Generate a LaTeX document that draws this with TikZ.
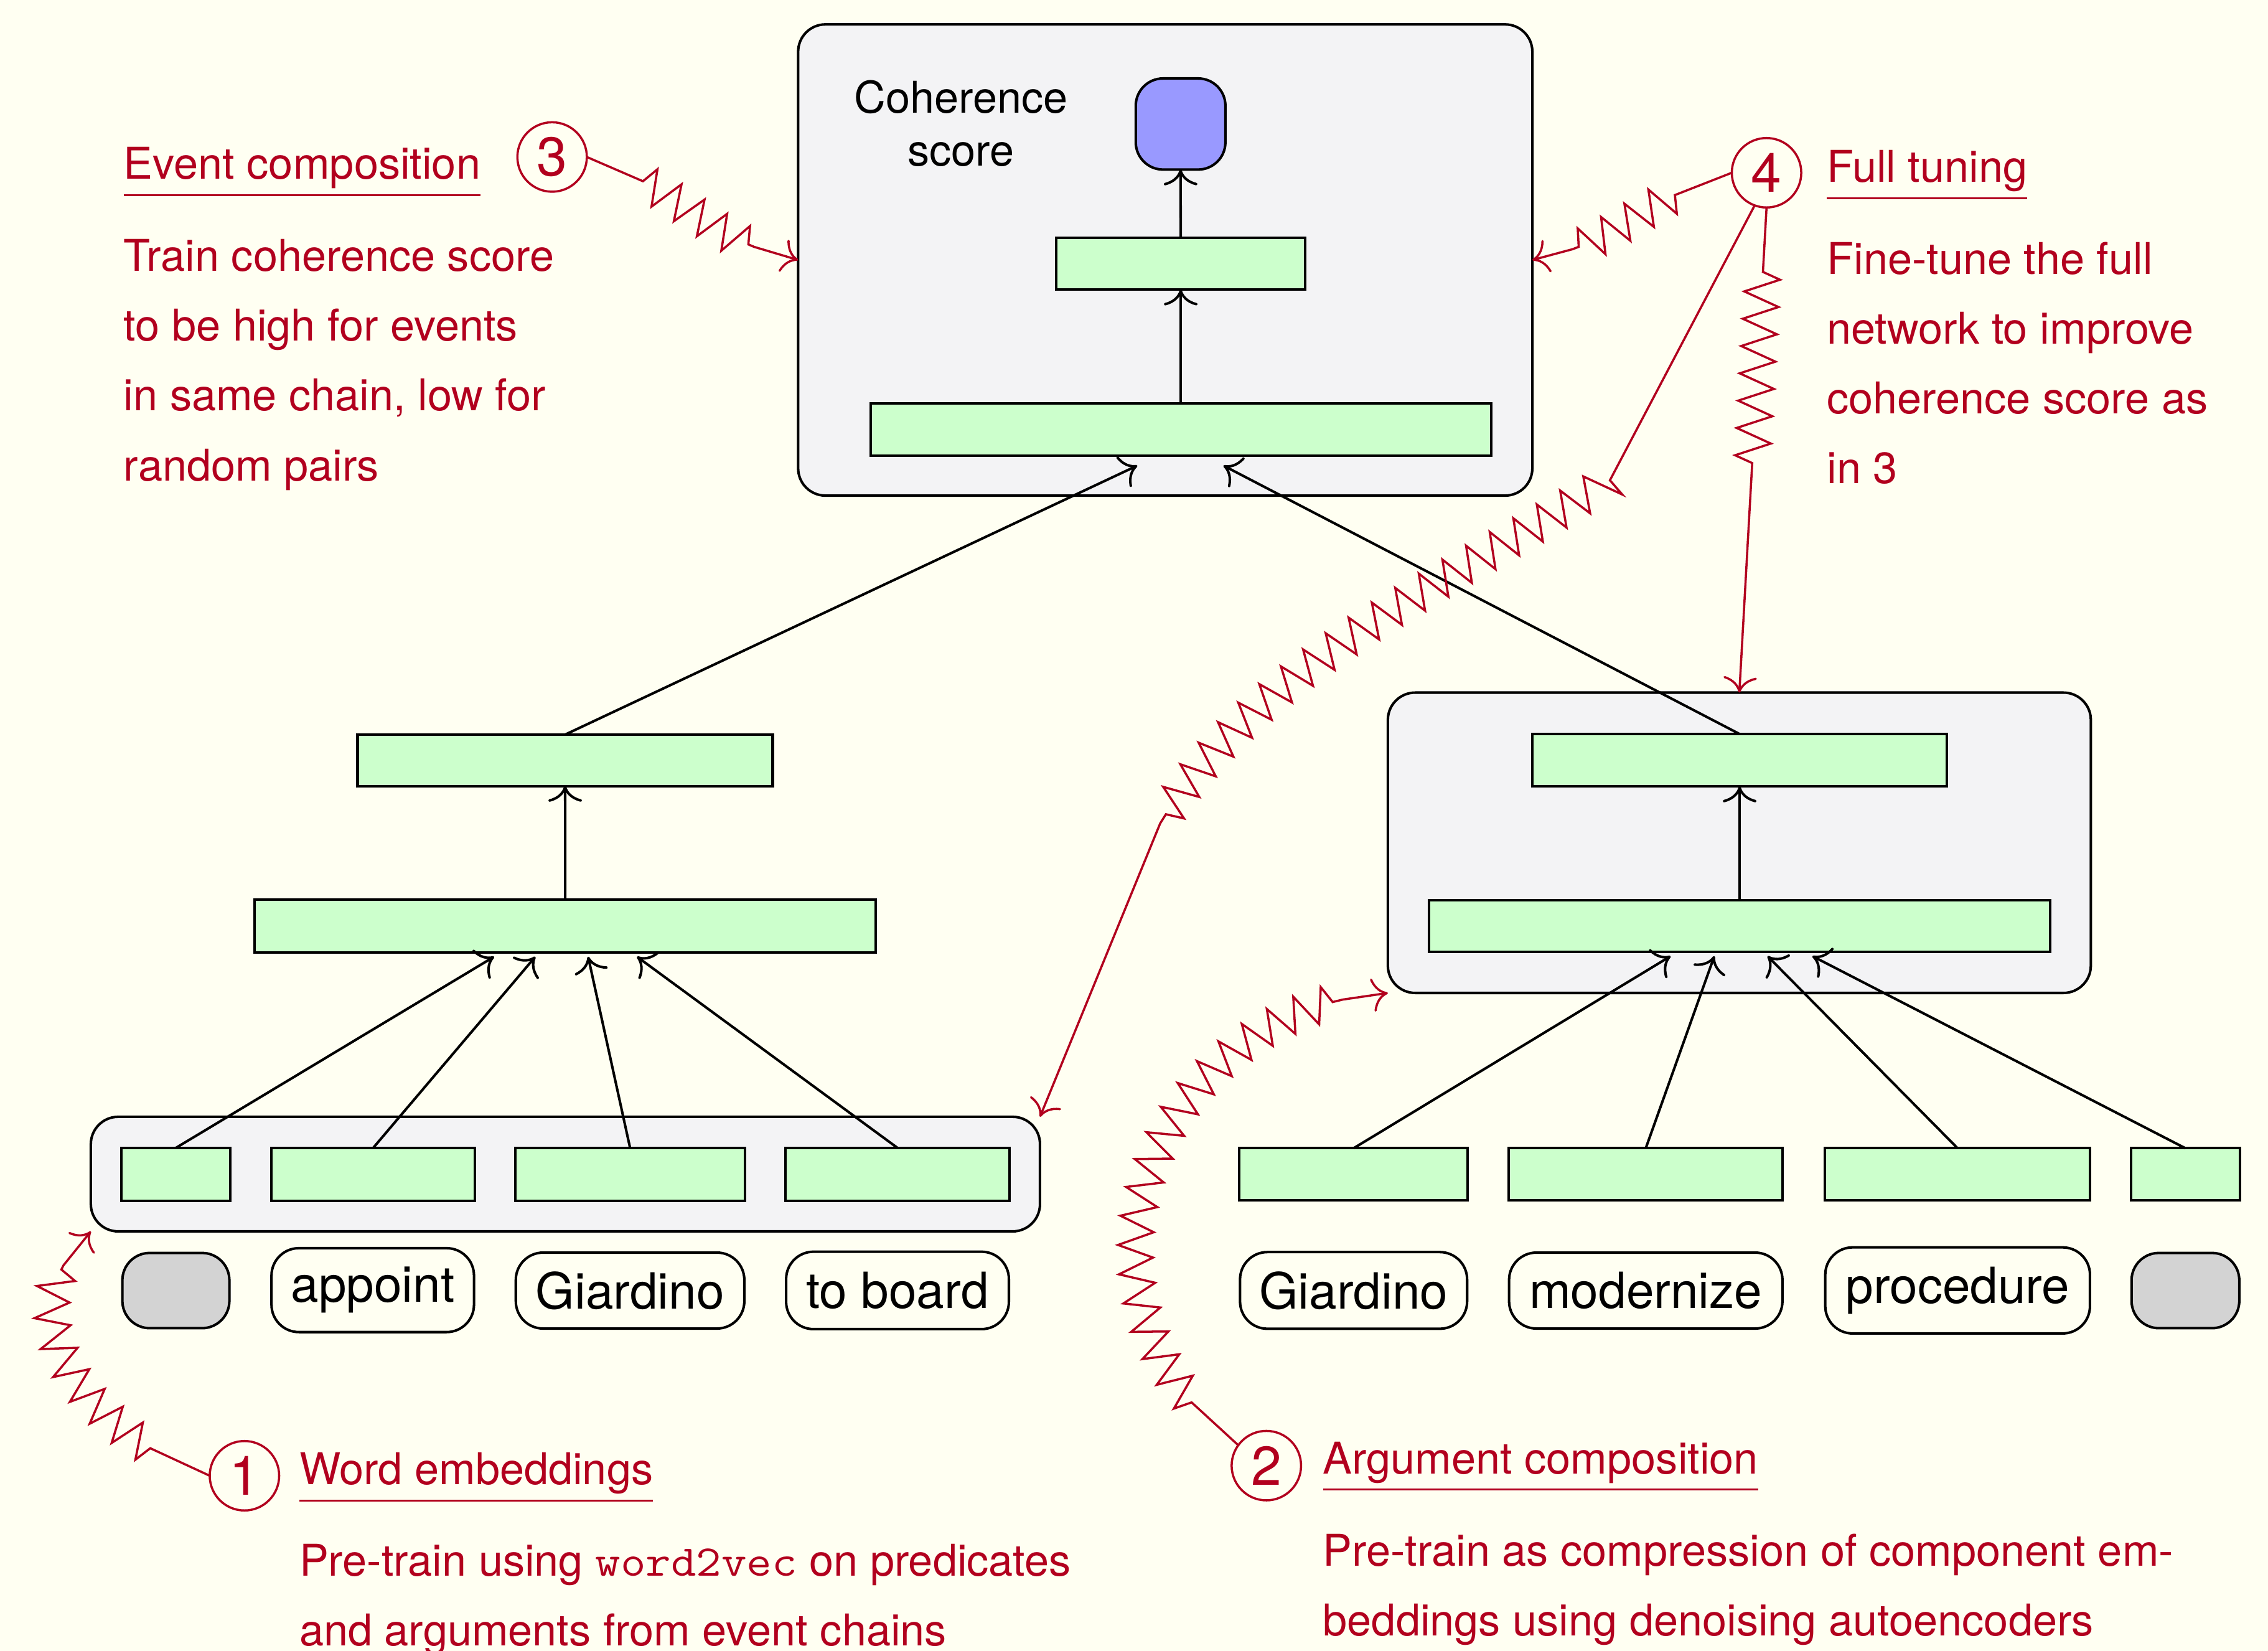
\documentclass[tikz,border=0pt]{standalone}
\usepackage{fontspec}
\setmainfont{TeX Gyre Heros}
\usetikzlibrary{arrows.meta,decorations.pathmorphing,calc}
\definecolor{bgc}{RGB}{255,255,242}
\definecolor{boxgreen}{RGB}{204,255,204}
\definecolor{scoreblue}{RGB}{153,153,255}
\definecolor{tokgray}{RGB}{211,211,211}
\definecolor{contgray}{RGB}{243,243,245}
\definecolor{annred}{RGB}{178,0,30}
\def\U{0.66124pt}
\newcommand\annfont{\fontsize{20pt}{24pt}\selectfont}
\newcommand\tokfont{\fontsize{22.8pt}{26pt}\selectfont}
\newcommand\digfont{\fontsize{25pt}{25pt}\selectfont}
\newcommand\wvec{\scalebox{1.12}[1]{\fontsize{20pt}{24pt}\ttfamily word2vec}}
\begin{document}
\begin{tikzpicture}[x=0.66124pt, y=-0.66124pt,
  >={Computer Modern Rightarrow[length=7.2pt,width=15.3pt]},
  gbox/.style={draw, fill=boxgreen, line width=1.15pt, inner sep=0pt, outer sep=0pt},
  cont/.style={draw, fill=contgray, rounded corners=12.5pt, line width=1.15pt, inner sep=0pt, outer sep=0pt},
  tok/.style={draw, rounded corners=12.5pt, line width=1.15pt, inner sep=0pt, outer sep=0pt, font=\tokfont},
  conn/.style={->, line width=1.15pt},
  ann/.style={text=annred, font=\annfont, inner sep=0pt, outer sep=0pt, anchor=base west},
  uline/.style={draw=annred, line width=0.85pt},
  num/.style={circle, draw=annred, text=annred, line width=1pt, minimum size=48*\U, inner sep=0pt, outer sep=0pt, font=\digfont},
  rl/.style={draw=annred, line width=1pt, ->, decorate},
  zz/.style={decoration={zigzag, amplitude=8pt, segment length=12.5pt, #1}},
]
\useasboundingbox (0,0) rectangle (1568,1141);
\fill[bgc] (0,0) rectangle (1568,1141);

% containers
\node[cont, minimum width=507.6*\U, minimum height=325.7*\U] (tc) at (805.6,179.7) {};
\node[cont, minimum width=486*\U, minimum height=207.6*\U] (rc) at (1202.5,582.5) {};
\node[cont, minimum width=656.2*\U, minimum height=79.2*\U] (lc) at (390.9,811.5) {};

% top network
\node[draw, fill=scoreblue, rounded corners=12.5pt, line width=1.15pt, inner sep=0pt, outer sep=0pt,
      minimum width=62*\U, minimum height=63*\U] (score) at (816.2,85.7) {};
\node[gbox, minimum width=172.2*\U, minimum height=36*\U] (ht2) at (816.3,182.2) {};
\node[gbox, minimum width=429*\U, minimum height=36*\U] (ht1) at (816.3,296.8) {};
\node[font=\annfont, inner sep=0pt, anchor=base] (cs1) at (664.4,78.2) {Coherence};
\node[font=\annfont, inner sep=0pt, anchor=base] (cs2) at (664.4,114.6) {score};

% left event
\node[gbox, minimum width=287*\U, minimum height=35.5*\U] (le2) at (390.7,525.5) {};
\node[gbox, minimum width=429.4*\U, minimum height=36.5*\U] (le1) at (390.8,640) {};
% right event
\node[gbox, minimum width=286.7*\U, minimum height=36.3*\U] (re2) at (1202.7,525.5) {};
\node[gbox, minimum width=429.3*\U, minimum height=35.7*\U] (re1) at (1202.7,640) {};

% small embedding boxes
\node[gbox, minimum width=75.3*\U, minimum height=36.6*\U] (lb1) at (121.6,811.7) {};
\node[gbox, minimum width=140.9*\U, minimum height=36.6*\U] (lb2) at (258,811.7) {};
\node[gbox, minimum width=159*\U, minimum height=36.6*\U] (lb3) at (435.6,811.7) {};
\node[gbox, minimum width=155*\U, minimum height=36.6*\U] (lb4) at (620.5,811.7) {};
\node[gbox, minimum width=158*\U, minimum height=36.1*\U] (rb1) at (935.8,811.7) {};
\node[gbox, minimum width=189.5*\U, minimum height=36.1*\U] (rb2) at (1137.8,811.7) {};
\node[gbox, minimum width=183.3*\U, minimum height=36.1*\U] (rb3) at (1353.4,811.7) {};
\node[gbox, minimum width=75.2*\U, minimum height=36.1*\U] (rb4) at (1510.9,811.7) {};

% tokens
\node[tok, fill=tokgray, minimum width=74*\U, minimum height=52*\U] (lt1) at (121.6,892) {};
\node[tok, minimum width=140*\U, minimum height=58*\U] (lt2) at (257.7,891.7) {appoint};
\node[tok, minimum width=158*\U, minimum height=52.5*\U] (lt3) at (435.6,892) {Giardino};
\node[tok, minimum width=154*\U, minimum height=53.5*\U] (lt4) at (620.5,891.9) {to board};
\node[tok, minimum width=157*\U, minimum height=53*\U] (rt1) at (935.8,891.9) {Giardino};
\node[tok, minimum width=189*\U, minimum height=52.5*\U] (rt2) at (1137.8,892) {modernize};
\node[tok, minimum width=183*\U, minimum height=59.5*\U] (rt3) at (1353.4,891.9) {procedure};
\node[tok, fill=tokgray, minimum width=74.5*\U, minimum height=52*\U] (rt4) at (1510.9,892) {};

% black connectors
\draw[conn] (ht1.north) -- (ht2.south);
\draw[conn] (ht2.north) -- (score.south);
\draw[conn] (le1.north) -- (le2.south);
\draw[conn] (re1.north) -- (re2.south);
\draw[conn] (le2.north) -- ($(ht1.south)+(-30,7)$);
\draw[conn] (re2.north) -- ($(ht1.south)+(29.5,7)$);
\draw[conn] (lb1.north) -- ($(le1.south)+(-49.2,3)$);
\draw[conn] (lb2.north) -- ($(le1.south)+(-20.7,3)$);
\draw[conn] (lb3.north) -- ($(le1.south)+(15.8,3)$);
\draw[conn] (lb4.north) -- ($(le1.south)+(49.6,3)$);
\draw[conn] (rb1.north) -- ($(re1.south)+(-47.7,3)$);
\draw[conn] (rb2.north) -- ($(re1.south)+(-17.5,3)$);
\draw[conn] (rb3.north) -- ($(re1.south)+(19.3,3)$);
\draw[conn] (rb4.north) -- ($(re1.south)+(50.3,3)$);

% numbered circles
\node[num] (c3) at (381.7,108.5) {3};
\node[num] (c4) at (1221.3,119.4) {4};
\node[num] (c1) at (169,1020) {1};
\node[num] (c2) at (875.5,1013) {2};

% red zigzag connectors
\draw[rl, zz={pre length=28pt, post length=21pt}] (c3.east) to[out=-17,in=169] (tc.west);
\draw[rl, zz={pre length=28pt, post length=19pt}] (c4.west) to[out=195,in=10] (tc.east);
\draw[rl, zz={pre length=29.5pt, post length=101pt}] (c4.south) -- (rc.north);
\draw[rl, zz={pre length=142pt, post length=145pt}] (c4.250) -- (1113,332)
   .. controls (1003.4,402) and (870,458) .. (802.4,568.6) -- (lc.north east);
\draw[rl, zz={pre length=30pt, post length=20pt}] (c1.west) to[out=161.5,in=222,looseness=1.2] (lc.south west);
\draw[rl, zz={pre length=29pt, post length=21pt}] (c2.144) to[out=144,in=184,looseness=1.3] (rc.south west);

% annotation 3
\node[ann] (h3) at (85.6,123.7) {Event composition};
\draw[uline] ($(h3.base west)+(0,11)$) -- ($(h3.base east)+(0,11)$);
\node[ann] (t3a) at (85.6,187.2) {Train coherence score};
\node[ann] (t3b) at (85.6,235.4) {to be high for events};
\node[ann] (t3c) at (85.6,283.6) {in same chain, low for};
\node[ann] (t3d) at (85.6,332.2) {random pairs};

% annotation 4
\node[ann] (h4) at (1263.1,126) {Full tuning};
\draw[uline] ($(h4.base west)+(0,11)$) -- ($(h4.base east)+(0,11)$);
\node[ann] (t4a) at (1263.1,189.5) {Fine-tune the full};
\node[ann] (t4b) at (1263.1,237.7) {network to improve};
\node[ann] (t4c) at (1263.1,285.8) {coherence score as};
\node[ann] (t4d) at (1263.1,334) {in 3};

% annotation 1
\node[ann] (h1) at (207,1026) {Word embeddings};
\draw[uline] ($(h1.base west)+(0,11)$) -- ($(h1.base east)+(0,11)$);
\node[ann] (t1a) at (207,1089.4) {Pre-train using \wvec{} on predicates};
\node[ann] (t1b) at (207,1137.3) {and arguments from event chains};

% annotation 2
\node[ann] (h2) at (914.7,1018.6) {Argument composition};
\draw[uline] ($(h2.base west)+(0,11)$) -- ($(h2.base east)+(0,11)$);
\node[ann] (t2a) at (914.7,1082.2) {Pre-train as compression of component em-};
\node[ann] (t2b) at (914.7,1130.5) {beddings using denoising autoencoders};
\end{tikzpicture}
\end{document}
